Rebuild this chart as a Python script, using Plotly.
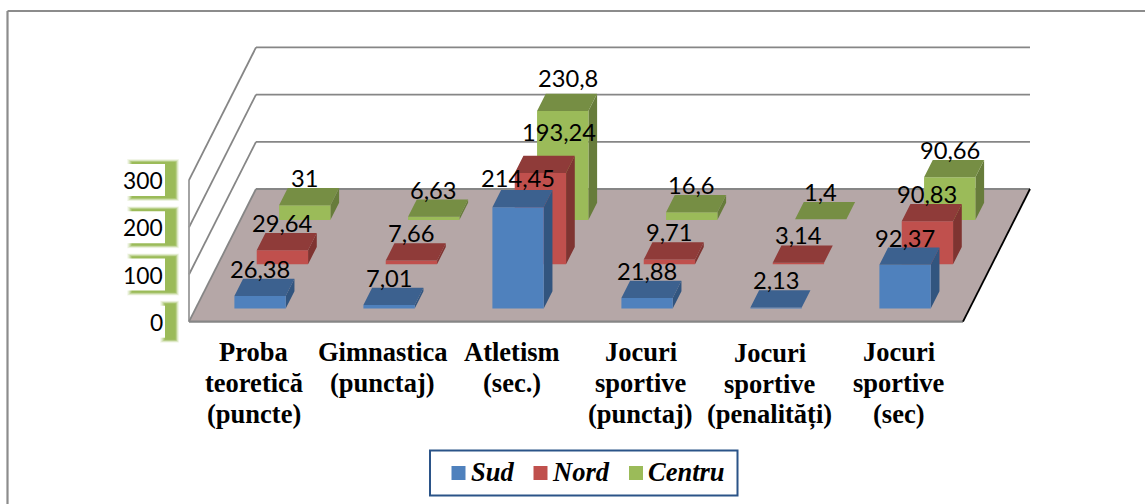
import plotly.graph_objects as go

# ---------- data ----------
categories = [
    ["Proba", "teoretică", "(puncte)"],
    ["Gimnastica", "(punctaj)"],
    ["Atletism", "(sec.)"],
    ["Jocuri", "sportive", "(punctaj)"],
    ["Jocuri", "sportive", "(penalități)"],
    ["Jocuri", "sportive", "(sec)"],
]
series_names = ["Sud", "Nord", "Centru"]
sud = [26.38, 7.01, 214.45, 21.88, 2.13, 92.37]
nord = [29.64, 7.66, 193.24, 9.71, 3.14, 90.83]
centru = [31, 6.63, 230.8, 16.6, 1.4, 90.66]
value_ticks = [0, 100, 200, 300]

# ---------- oblique projection (canvas is 1145x504, axes map 1:1 to pixels) ----------
X0, Y0 = 189.0, 321.7       # front-left corner of the floor
CAT_W = 129.0               # px per category
DEPTH_DX, DEPTH_DY = 22.33, 44.23   # px per series row going back
V_SCALE = 0.472             # px per value unit
N_CAT, N_SER = len(categories), 3


def px(u, d):
    return X0 + CAT_W * u + DEPTH_DX * d


def py(d, v=0.0):
    return Y0 - DEPTH_DY * d - V_SCALE * v


BAR_U = (0.3, 0.698)
BAR_D = (0.3, 0.69)

COL = {
    "Sud": dict(front="#4F81BD", top="#3C618F", side="#32557F"),
    "Nord": dict(front="#C0504D", top="#8F3B39", side="#7F3431"),
    "Centru": dict(front="#9BBB59", top="#768E44", side="#677C3B"),
}
GRID = "#868686"
FLOOR = "#B5A7A7"
FS_VAL = 23.7
FS_TICK = 22.8
FS_CAT = 26.5

fig = go.Figure()


def poly(x, y, color, name, group=None):
    fig.add_trace(go.Scatter(x=x, y=y, mode="lines", fill="toself", fillcolor=color,
                             line=dict(width=0, color=color), name=name,
                             hoverinfo="skip", showlegend=False, legendgroup=group))


def seg(p, q, color=GRID, width=1.8):
    fig.add_trace(go.Scatter(x=[p[0], q[0]], y=[p[1], q[1]], mode="lines",
                             line=dict(color=color, width=width),
                             hoverinfo="skip", showlegend=False))


# frame (top and left only, running off the picture)
seg((7.5, 11), (1145, 11), "#8C8C8C", 2.2)
seg((7.5, 11), (7.5, 504), "#8C8C8C", 2.2)

# walls: grid lines
for v in value_ticks[1:]:
    seg((px(0, 0), py(0, v)), (px(0, N_SER), py(N_SER, v)))
    seg((px(0, N_SER), py(N_SER, v)), (px(N_CAT, N_SER), py(N_SER, v)))
seg((px(0, 0), py(0, 0)), (px(0, 0), py(0, value_ticks[-1])), "#9A9A9A", 1.8)

# floor
poly([px(0, 0), px(N_CAT, 0), px(N_CAT, N_SER), px(0, N_SER), px(0, 0)],
     [py(0), py(0), py(N_SER), py(N_SER), py(0)], FLOOR, "Podea")
seg((px(0, N_SER), py(N_SER)), (px(N_CAT, N_SER), py(N_SER)))
seg((px(0, 0), py(0)), (px(0, N_SER), py(N_SER)))
seg((px(0, 0), py(0)), (px(N_CAT, 0), py(0)), GRID, 2.2)
seg((px(N_CAT, 0), py(0)), (px(N_CAT, N_SER), py(N_SER)), "#000000", 1.8)

# bars, back row first
rows = [("Centru", 2, centru), ("Nord", 1, nord), ("Sud", 0, sud)]
for name, s, vals in rows:
    fx, fy, tx, ty, sx, sy = [], [], [], [], [], []
    d0, d1 = s + BAR_D[0], s + BAR_D[1]
    for i, v in enumerate(vals):
        u0, u1 = i + BAR_U[0], i + BAR_U[1]
        fx += [px(u0, d0), px(u1, d0), px(u1, d0), px(u0, d0), px(u0, d0), None]
        fy += [py(d0), py(d0), py(d0, v), py(d0, v), py(d0), None]
        tx += [px(u0, d0), px(u1, d0), px(u1, d1), px(u0, d1), px(u0, d0), None]
        ty += [py(d0, v), py(d0, v), py(d1, v), py(d1, v), py(d0, v), None]
        sx += [px(u1, d0), px(u1, d1), px(u1, d1), px(u1, d0), px(u1, d0), None]
        sy += [py(d0), py(d1), py(d1, v), py(d0, v), py(d0), None]
    poly(sx, sy, COL[name]["side"], name, name)
    poly(fx, fy, COL[name]["front"], name, name)
    poly(tx, ty, COL[name]["top"], name, name)

annotations = []
shapes = []


def text(x, y, s, size, color="#000000", family="Lato", xanchor="center"):
    annotations.append(dict(x=x, y=y, xref="x", yref="y", text=s, showarrow=False,
                            xanchor=xanchor, yanchor="middle",
                            font=dict(family=family, size=size, color=color)))


def fmt(v):
    return str(v).replace(".", ",")


# manually dragged labels in the source chart
label_shift = {("Nord", 2): (18.4, -13.7), ("Centru", 2): (5, -6), ("Sud", 2): (0, -2)}
for name, s, vals in rows:
    for i, v in enumerate(vals):
        dx, dy = label_shift.get((name, i), (0, 0))
        xc = px(i + (BAR_U[0] + BAR_U[1]) / 2, s + BAR_D[0])
        yc = py(s + BAR_D[1], v) - 10
        text(xc + dx, yc + dy, fmt(v), FS_VAL)

# value axis labels with glowing green boxes
for v in value_ticks:
    yc = py(0, v)
    top, bot = yc - 16, yc + 16
    left = 165 if v == 0 else 132
    for grow, op in [(5, 0.10), (4, 0.16), (3, 0.24), (2, 0.38), (1, 0.6), (0, 1.0)]:
        shapes.append(dict(type="rect", xref="x", yref="y", x0=left - grow, x1=175.5 + grow * 0.7,
                           y0=top - 2 - grow * 0.6, y1=bot + 2 + grow * 0.6, line_width=0,
                           fillcolor="#9BBB59", opacity=op, layer="below"))
    shapes.append(dict(type="rect", xref="x", yref="y", x0=150 if v == 0 else 125, x1=165,
                       y0=top, y1=bot, line_width=0, fillcolor="#FFFFFF", layer="below"))
    text(164.5, yc, str(v), FS_TICK, xanchor="right")

# category labels
CAT_Y = [352, 383, 413.5]
for i, lines in enumerate(categories):
    extra = 1 if i == 4 else 0
    for k, line in enumerate(lines):
        text(px(i + 0.5, 0), CAT_Y[k] + extra, f"<b>{line}</b>", FS_CAT, family="Liberation Serif")

# legend box
shapes.append(dict(type="rect", xref="x", yref="y", x0=430, x1=737.5, y0=450.5, y1=495.5,
                   line=dict(color="#2B5488", width=2), fillcolor="#FFFFFF"))
legend_swatch_x = [451.5, 533.5, 629]
legend_text_x = [468.5, 549.5, 646]
for name, sw, tx_ in zip(series_names, legend_swatch_x, legend_text_x):
    shapes.append(dict(type="rect", xref="x", yref="y", x0=sw, x1=sw + 14, y0=466, y1=480,
                       line_width=0, fillcolor=COL[name]["front"]))
    text(tx_, 472, f"<b><i>{name}</i></b>", FS_CAT, family="Liberation Serif", xanchor="left")

fig.update_layout(
    width=1145, height=504, margin=dict(l=0, r=0, t=0, b=0),
    paper_bgcolor="#FFFFFF", plot_bgcolor="#FFFFFF", showlegend=False,
    xaxis=dict(range=[0, 1145], visible=False, fixedrange=True),
    yaxis=dict(range=[504, 0], visible=False, fixedrange=True),
    annotations=annotations, shapes=shapes,
)
fig.write_html("out.html", config=dict(displayModeBar=False),
               post_script="document.body.style.margin='0';document.body.style.overflow='hidden';")
